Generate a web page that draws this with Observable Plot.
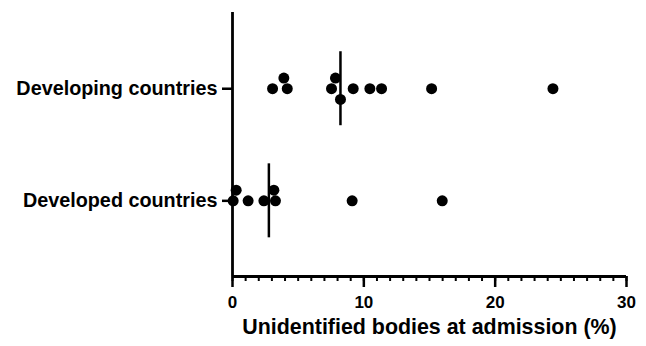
<!DOCTYPE html>
<html>
<head>
<meta charset="utf-8">
<script src="https://cdn.jsdelivr.net/npm/d3@7"></script>
<script src="https://cdn.jsdelivr.net/npm/@observablehq/plot@0.6"></script>
<style>
  html, body { margin: 0; padding: 0; background: #fff; }
</style>
</head>
<body>
<div id="chart"></div>
<script>
// ---- data ----
const categories = ["Developing countries", "Developed countries"];
const developingValues = [3.05, 3.91, 4.17, 7.54, 7.84, 8.22, 9.19, 10.46, 11.35, 15.16, 24.4];
const developedValues = [0.05, 0.28, 1.19, 2.39, 3.15, 3.27, 9.11, 15.97];
const xTicksMajor = [0, 10, 20, 30];
const xTicksMinor = d3.range(0, 31, 1);
const xLabel = "Unidentified bodies at admission (%)";

// ---- layout constants ----
const width = 646, height = 346;
const marginLeft = 232, marginRight = 20, marginTop = 12, marginBottom = 70;
const xDomain = [0, 30];
const yDomain = [-0.68, 1.675];
const dotR = 5.5;
const medianHalf = 0.33;

const pxPerX = (width - marginLeft - marginRight) / (xDomain[1] - xDomain[0]);
const pxPerY = (height - marginTop - marginBottom) / (yDomain[1] - yDomain[0]);
const laneStep = (2 * dotR - 0.3) / pxPerY;

// simple beeswarm lane assignment (rows one dot diameter apart)
function lanes(values) {
  const order = values.map((v, i) => i).sort((a, b) => values[a] - values[b]);
  const slots = [0, -1, 1, -2, 2, -3, 3];
  const placed = new Map();
  const out = new Array(values.length);
  for (const i of order) {
    for (const s of slots) {
      const list = placed.get(s) || [];
      const clash = list.some(v => Math.abs(v - values[i]) * pxPerX < 2 * dotR + 0.5);
      if (!clash) { list.push(values[i]); placed.set(s, list); out[i] = s; break; }
    }
  }
  return out;
}

const groups = [developingValues, developedValues];
const points = [];
groups.forEach((vals, gi) => {
  const ln = lanes(vals);
  vals.forEach((v, k) => points.push({cat: gi, value: v, y: gi + ln[k] * laneStep}));
});
const medians = groups.map((vals, gi) => ({cat: gi, median: d3.median(vals)}));

const chart = Plot.plot({
  width, height, marginLeft, marginRight, marginTop, marginBottom,
  style: {fontFamily: "'Liberation Sans', Arial, sans-serif", fontWeight: "bold", color: "#000", background: "#fff"},
  x: {domain: xDomain},
  y: {domain: yDomain, reverse: true},
  marks: [
    // minor x ticks
    Plot.axisX({ticks: xTicksMinor, tickSize: 5, tickFormat: () => "", strokeWidth: 2, label: null}),
    // major x ticks + labels
    Plot.axisX({ticks: xTicksMajor, tickSize: 11, tickPadding: 8, strokeWidth: 2.5, fontSize: 17, fontWeight: "bold", label: null, tickFormat: d3.format("d")}),
    // x axis title
    Plot.axisX({ticks: [], label: xLabel, labelAnchor: "center", labelArrow: "none", labelOffset: 57, fontSize: 21.4, fontWeight: "bold"}),
    // y ticks + labels
    Plot.axisY({ticks: [0, 1], tickSize: 10, tickPadding: 5, strokeWidth: 2.5, fontSize: 19.8, fontWeight: "bold", tickFormat: i => categories[i], label: null}),
    // axis lines
    Plot.ruleX([xDomain[0]], {strokeWidth: 2.8, stroke: "#000"}),
    Plot.ruleY([yDomain[1]], {strokeWidth: 2.8, stroke: "#000"}),
    // medians
    Plot.ruleX(medians, {x: "median", y1: d => d.cat - medianHalf, y2: d => d.cat + medianHalf, strokeWidth: 2.5, stroke: "#000"}),
    // points
    Plot.dot(points, {x: "value", y: "y", r: dotR, fill: "#000", stroke: "none"})
  ]
});
document.getElementById("chart").appendChild(chart);
</script>
</body>
</html>
